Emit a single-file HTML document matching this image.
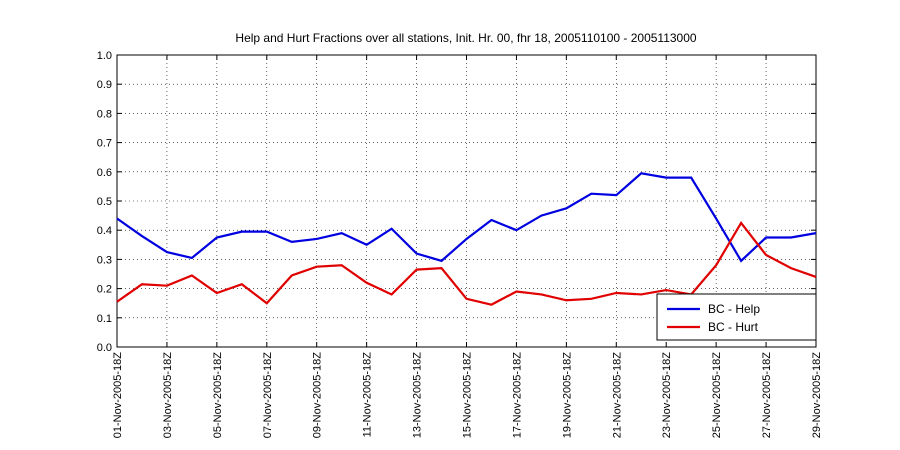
<!DOCTYPE html>
<html><head><meta charset="utf-8"><style>
html,body{margin:0;padding:0;background:#fff;}
svg{display:block;font-family:"Liberation Sans",sans-serif;}
</style></head><body>
<svg id="chart" width="900" height="450"></svg>
<script>
const days = [1,2,3,4,5,6,7,8,9,10,11,12,13,14,15,16,17,18,19,20,21,22,23,24,25,26,27,28,29];
const helpValues = [0.44,0.38,0.325,0.305,0.375,0.395,0.395,0.36,0.37,0.39,0.35,0.405,0.32,0.295,0.37,0.435,0.40,0.45,0.475,0.525,0.52,0.595,0.58,0.58,0.44,0.295,0.375,0.375,0.39];
const hurtValues = [0.155,0.215,0.21,0.245,0.185,0.215,0.15,0.245,0.275,0.28,0.22,0.18,0.265,0.27,0.165,0.145,0.19,0.18,0.16,0.165,0.185,0.18,0.195,0.18,0.28,0.425,0.315,0.27,0.24];
const yTicks = [0,0.1,0.2,0.3,0.4,0.5,0.6,0.7,0.8,0.9,1.0];
const xTickDays = [1,3,5,7,9,11,13,15,17,19,21,23,25,27,29];
const NS="http://www.w3.org/2000/svg";
const svg=document.getElementById('chart');
const L=117,R=816,T=55,B=347;
const x=d=>L+(d-1)/(28)*(R-L);
const y=v=>B-v*(B-T);
function mk(tag,attrs,parent){const e=document.createElementNS(NS,tag);for(const k in attrs)e.setAttribute(k,attrs[k]);(parent||svg).appendChild(e);return e;}
const bg=mk('rect',{x:L,y:T,width:R-L,height:B-T,fill:'#fff'});


const title=mk('text',{x:466,y:42,'text-anchor':'middle','font-size':'12'});
title.textContent='Help and Hurt Fractions over all stations, Init. Hr. 00, fhr 18, 2005110100 - 2005113000';


yTicks.forEach(v=>{
  const yy=y(v);
  if(v>0&&v<1){const g=mk('line',{x1:L,x2:R,y1:yy,y2:yy,stroke:'#000','stroke-width':0.6,'stroke-dasharray':'1,3'});
  
  }
  mk('line',{x1:L,x2:L+5,y1:yy,y2:yy,stroke:'#000'});
  mk('line',{x1:R,x2:R-5,y1:yy,y2:yy,stroke:'#000'});
  const t=mk('text',{x:L-5,y:yy+4,'text-anchor':'end','font-size':'11'});
  t.textContent=v.toFixed(1);
  
  
});
const mon=['','01','','03','','05','','07','','09','','11','','13','','15','','17','','19','','21','','23','','25','','27','','29'];
xTickDays.forEach(d=>{
  const xx=x(d);
  if(d>1&&d<29){const g=mk('line',{x1:xx,x2:xx,y1:T,y2:B,stroke:'#000','stroke-width':0.6,'stroke-dasharray':'1,3'});
  
  }
  mk('line',{x1:xx,x2:xx,y1:B,y2:B-5,stroke:'#000'});
  mk('line',{x1:xx,x2:xx,y1:T,y2:T+5,stroke:'#000'});
  const t=mk('text',{x:0,y:0,'text-anchor':'end','font-size':'11',transform:`translate(${xx+4},${B+5}) rotate(-90)`});
  t.textContent=(d<10?'0'+d:d)+'-Nov-2005-18Z';
  
  
});
const frame=mk('rect',{x:L,y:T,width:R-L,height:B-T,fill:'none',stroke:'#000'});


function series(vals,color,name){
  const p=mk('polyline',{points:vals.map((v,i)=>x(days[i])+','+y(v)).join(' '),fill:'none',stroke:color,'stroke-width':2.2});
  
  
}
series(helpValues,'#0000e0','help-line');
series(hurtValues,'#e00000','hurt-line');
const lg=mk('g',{});


mk('rect',{x:657,y:294,width:159,height:46,fill:'#fff',stroke:'#000'},lg);
mk('line',{x1:667,x2:700,y1:309,y2:309,stroke:'#0000e0','stroke-width':2.2},lg);
mk('line',{x1:667,x2:700,y1:327,y2:327,stroke:'#e00000','stroke-width':2.2},lg);
const l1=mk('text',{x:708,y:313,'font-size':'12'},lg);l1.textContent='BC - Help';


const l2=mk('text',{x:708,y:331,'font-size':'12'},lg);l2.textContent='BC - Hurt';


</script>
</body></html>
